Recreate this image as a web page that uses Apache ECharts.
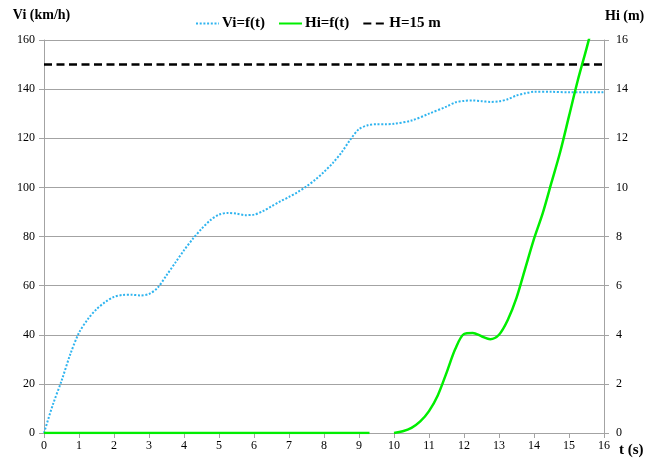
<!DOCTYPE html>
<html>
<head>
<meta charset="utf-8">
<script src="https://cdn.jsdelivr.net/npm/echarts@6/dist/echarts.min.js"></script>
<style>
  html, body { margin: 0; padding: 0; background: #fff; }
</style>
</head>
<body>
<div id="main" style="width: 660px;height:458px;"></div>
<script>
// time (s) for the speed curve, speed Vi (km/h), read every 0.25 s
const tVi = [0, 0.25, 0.5, 0.75, 1, 1.25, 1.5, 1.75, 2, 2.25, 2.5, 2.75, 3, 3.25, 3.5, 3.75,
  4, 4.25, 4.5, 4.75, 5, 5.25, 5.5, 5.75, 6, 6.25, 6.5, 6.75, 7, 7.25, 7.5, 7.75,
  8, 8.25, 8.5, 8.75, 9, 9.25, 9.5, 9.75, 10, 10.5, 11, 11.5, 11.75, 12, 12.25, 12.5, 12.75,
  13, 13.25, 13.5, 13.75, 14, 14.5, 15, 15.5, 16]
const vi = [0, 11.4, 21.2, 32, 40.8, 46.3, 50.4, 53.3, 55.4, 56.2, 56.3, 56, 56.6, 59.2, 64.2, 69.3,
  74.4, 79, 83.1, 86.6, 88.9, 89.6, 89.3, 88.7, 88.9, 90.3, 92.3, 94.3, 96.1, 98.1, 100.4, 103.1,
  106.3, 109.9, 114.2, 119.4, 123.7, 125.3, 125.7, 125.7, 125.9, 127.2, 130, 132.9, 134.6, 135.2, 135.4, 135.1, 134.8,
  135, 135.9, 137.4, 138.3, 138.9, 138.9, 138.7, 138.7, 138.7]
// time (s) for the height curve, height Hi (m); null = gap in the line
const tHi = [0, 9.3, 9.6, 10, 10.25, 10.5, 10.75, 11, 11.25, 11.5, 11.75, 12, 12.25, 12.5, 12.75,
  13, 13.25, 13.5, 13.75, 14, 14.25, 14.5, 14.75, 15, 15.25, 15.5, 15.75, 16]
const hi = [0, 0, null, 0, 0.07, 0.21, 0.47, 0.89, 1.53, 2.45, 3.42, 4.03, 4.07, 3.94, 3.82,
  4.0, 4.6, 5.5, 6.7, 7.9, 8.95, 10.2, 11.45, 12.9, 14.35, 15.65, 17, 18.3]
// limit line H = 15 m
const tLimit = [0, 16]
const hLimit = [15, 15]

const zip = (a, b) => a.map((x, i) => [x, b[i] === null ? '-' : b[i]])

const serif = 'Liberation Serif, Times New Roman, serif'
const gridGray = '#a3a3a3'

var myChart = echarts.init(document.getElementById('main'))

var option = {
  backgroundColor: '#fff',
  animation: false,
  textStyle: { fontFamily: serif },
  legend: {
    left: 190,
    top: 11,
    itemWidth: 23,
    itemHeight: 10,
    itemGap: 13,
    itemStyle: { opacity: 0 },
    textStyle: { fontFamily: serif, fontSize: 15, fontWeight: 'bold', color: '#000', padding: [0, 0, 0, -2] },
    data: ['Vi=f(t)', 'Hi=f(t)', 'H=15 m']
  },
  grid: {
    left: 44,
    right: 56,
    top: 40,
    bottom: 24
  },
  xAxis: {
    type: 'value',
    min: 0,
    max: 16,
    interval: 1,
    name: 't (s)',
    nameLocation: 'end',
    nameGap: 15,
    nameTextStyle: { fontFamily: serif, fontSize: 15, fontWeight: 'bold', color: '#000', verticalAlign: 'top', padding: [10, 0, 0, 0] },
    axisLine: { show: true, lineStyle: { color: gridGray } },
    axisTick: { show: true, length: 5, lineStyle: { color: gridGray } },
    axisLabel: { fontFamily: serif, fontSize: 12, color: '#000', margin: 7 },
    splitLine: { show: false }
  },
  yAxis: [
    {
      type: 'value',
      min: 0,
      max: 160,
      interval: 20,
      position: 'left',
      name: 'Vi (km/h)',
      nameLocation: 'end',
      nameGap: 18,
      nameTextStyle: { fontFamily: serif, fontSize: 14, fontWeight: 'bold', color: '#000', align: 'center', padding: [0, 5, 0, 0] },
      axisLine: { show: true, lineStyle: { color: gridGray } },
      axisTick: { show: true, length: 5, lineStyle: { color: gridGray } },
      axisLabel: { fontFamily: serif, fontSize: 12, color: '#000', margin: 9 },
      splitLine: { show: true, lineStyle: { color: gridGray, width: 1 } }
    },
    {
      type: 'value',
      min: 0,
      max: 16,
      interval: 2,
      position: 'right',
      name: 'Hi (m)',
      nameLocation: 'end',
      nameGap: 17,
      nameTextStyle: { fontFamily: serif, fontSize: 14, fontWeight: 'bold', color: '#000', align: 'left', padding: [0, 0, 0, 1] },
      axisLine: { show: true, lineStyle: { color: gridGray } },
      axisTick: { show: true, length: 5, lineStyle: { color: gridGray } },
      axisLabel: { fontFamily: serif, fontSize: 12, color: '#000', margin: 12 },
      splitLine: { show: false }
    }
  ],
  series: [
    {
      name: 'Vi=f(t)',
      type: 'line',
      yAxisIndex: 0,
      smooth: 0.3,
      showSymbol: false,
      symbol: 'none',
      color: '#2fb4ef',
      lineStyle: { color: '#2fb4ef', width: 2, type: [2, 1.7] },
      data: zip(tVi, vi),
      z: 3
    },
    {
      name: 'Hi=f(t)',
      type: 'line',
      yAxisIndex: 1,
      smooth: 0.3,
      showSymbol: false,
      symbol: 'none',
      connectNulls: false,
      color: '#00ee00',
      lineStyle: { color: '#00ee00', width: 2.5 },
      data: zip(tHi, hi),
      z: 4
    },
    {
      name: 'H=15 m',
      type: 'line',
      yAxisIndex: 1,
      showSymbol: false,
      symbol: 'none',
      color: '#000',
      lineStyle: { color: '#000', width: 2.5, type: [8, 4.5] },
      data: zip(tLimit, hLimit),
      z: 2
    }
  ]
}

myChart.setOption(option)
</script>
</body>
</html>
